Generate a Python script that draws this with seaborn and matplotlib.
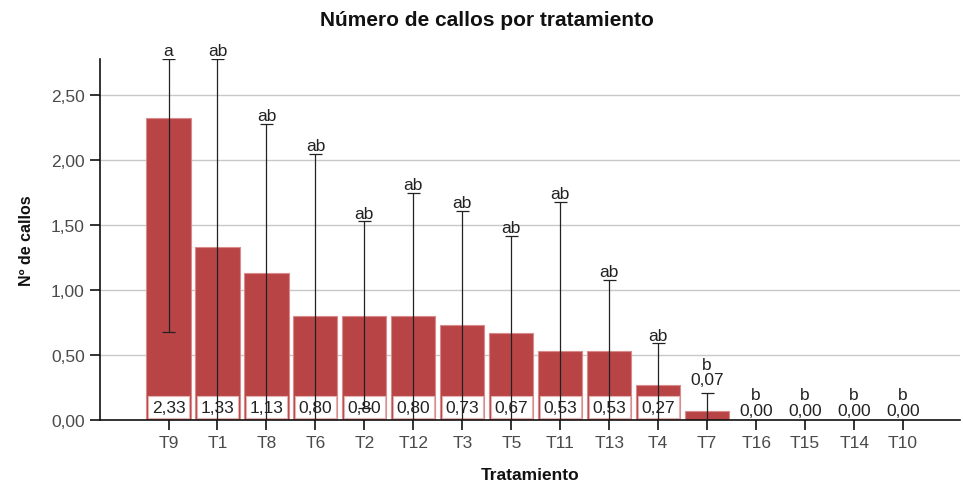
import numpy as np
import pandas as pd
import matplotlib
matplotlib.use("Agg")
import matplotlib.pyplot as plt
import seaborn as sns
from matplotlib.ticker import FuncFormatter, MultipleLocator

# Treatments in display order, mean calluses and error-bar ends
treatments = ["T9", "T1", "T8", "T6", "T2", "T12", "T3", "T5",
              "T11", "T13", "T4", "T7", "T16", "T15", "T14", "T10"]
means = [2.33, 1.33, 1.13, 0.80, 0.80, 0.80, 0.73, 0.67,
         0.53, 0.53, 0.27, 0.07, 0.00, 0.00, 0.00, 0.00]
err_low = [0.68, -0.12, -0.02, -0.45, 0.09, -0.15, -0.15, -0.08,
           -0.62, -0.02, -0.05, -0.07, None, None, None, None]
err_high = [2.78, 2.78, 2.28, 2.05, 1.53, 1.75, 1.61, 1.42,
            1.68, 1.08, 0.59, 0.21, None, None, None, None]
letters = ["a", "ab", "ab", "ab", "ab", "ab", "ab", "ab",
           "ab", "ab", "ab", "b", "b", "b", "b", "b"]

df = pd.DataFrame({"Tratamiento": treatments, "callos": means})

sns.set_theme(style="white")
plt.rcParams["font.family"] = ["Liberation Sans", "DejaVu Sans"]

fig = plt.figure(figsize=(9.63, 4.85), dpi=100)
ax = fig.add_axes([0.1038, 0.132, 0.893, 0.744])

bar_color = "#B94446"
sns.barplot(data=df, x="Tratamiento", y="callos", order=treatments,
            color=bar_color, saturation=1, width=0.9, errorbar=None,
            edgecolor="#D98A8A", linewidth=0.8, ax=ax, zorder=2)

ymax = 2.78
ax.set_ylim(0, ymax)
ax.set_xlim(-1.4, len(treatments) - 1 + 1.16)

# horizontal grid
ax.yaxis.set_major_locator(MultipleLocator(0.5))
ax.yaxis.grid(True, color="#C8C8C8", linewidth=1.0, zorder=0)
ax.xaxis.grid(False)
ax.set_axisbelow(True)
ax.yaxis.set_major_formatter(FuncFormatter(lambda v, p: f"{v:.2f}".replace(".", ",")))

for side in ["top", "right"]:
    ax.spines[side].set_visible(False)
for side in ["left", "bottom"]:
    ax.spines[side].set_color("#111111")
    ax.spines[side].set_linewidth(1.2)

ax.tick_params(axis="both", which="major", direction="out", length=7,
               width=1.2, color="#111111", labelsize=12.5, labelcolor="#4a4a4a",
               left=True, bottom=True, pad=4)

# error bars drawn as whiskers with caps
cap = 0.13
for i, (lo, hi) in enumerate(zip(err_low, err_high)):
    if lo is None:
        continue
    ax.vlines(i, lo, hi, color="#222222", linewidth=0.9, zorder=5)
    ax.hlines([lo, hi], i - cap, i + cap, color="#222222", linewidth=0.9, zorder=5)

# value labels and group letters
fs = 12.5
for i, (m, hi, let) in enumerate(zip(means, err_high, letters)):
    txt = f"{m:.2f}".replace(".", ",")
    if m >= 0.2:
        ax.text(i, 0.10, txt, ha="center", va="center", fontsize=fs,
                color="#222222", zorder=4,
                bbox=dict(boxstyle="square,pad=0.2", facecolor="white",
                          edgecolor="#E3B3B3", linewidth=0.8))
        ax.annotate(let, (i, hi), xytext=(0, 6), textcoords="offset points",
                    ha="center", va="center", fontsize=fs, color="#222222",
                    annotation_clip=False)
    else:
        base = hi if hi is not None else 0.0
        v_off, l_off = (9.5, 20) if hi is not None else (7, 18)
        ax.annotate(txt, (i, base), xytext=(0, v_off), textcoords="offset points",
                    ha="center", va="center", fontsize=fs, color="#222222")
        ax.annotate(let, (i, base), xytext=(0, l_off), textcoords="offset points",
                    ha="center", va="center", fontsize=fs, color="#222222")

ax.set_xlabel("Tratamiento", fontsize=12.5, fontweight="bold", color="#111111", labelpad=12)
ax.set_ylabel("Nº de callos", fontsize=11.5, fontweight="bold", color="#111111", labelpad=12)
fig.suptitle("Número de callos por tratamiento", x=0.506, y=0.978,
             fontsize=15, fontweight="bold", color="#111111")

fig.savefig("out.png", dpi=100)
